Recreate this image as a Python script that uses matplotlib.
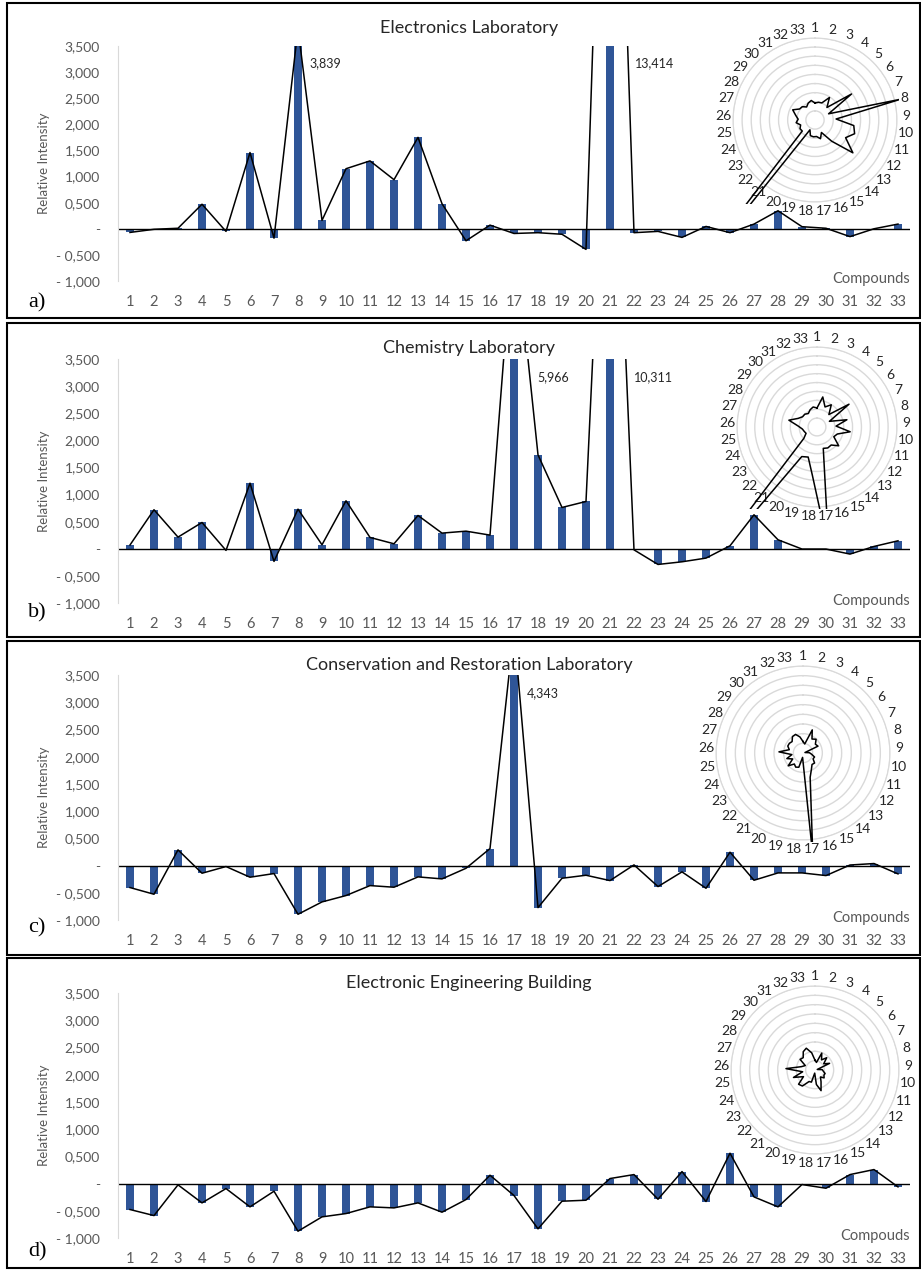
import numpy as np
import matplotlib.pyplot as plt
from matplotlib.patches import Rectangle

plt.rcParams['font.family'] = ['Lato', 'DejaVu Sans']

# data
compounds = list(range(1, 34))

electronics = [-70, -10, 10, 470, -50, 1460, -180, 3839, 160, 1150, 1300, 940, 1750, 480,
               -230, 70, -90, -75, -105, -395, 13414, -75, -50, -165, 45, -75, 90, 345,
               40, 10, -150, 0, 90]
chemistry = [70, 720, 215, 485, -30, 1210, -233, 731, 74, 885, 209, 92, 614, 289,
             325, 252, 5966, 1732, 762, 872, 10311, -20, -289, -240, -172, 55, 627, 166,
             -5, -5, -98, 43, 147]
conservation = [-404, -527, 288, -141, -18, -214, -147, -895, -668, -551, -368, -398, -208, -245,
                -50, 312, 4343, -772, -233, -178, -276, 12, -386, -116, -417, 245, -270, -135,
                -135, -184, 10, 37, -153]
engineering = [-477, -588, -24, -355, -92, -428, -141, -875, -612, -551, -428, -447, -355, -526,
               -294, 153, -220, -832, -324, -306, 92, 165, -288, 220, -330, 557, -245, -428,
               -18, -86, 165, 257, -61]

titles = ['Electronics Laboratory', 'Chemistry Laboratory',
          'Conservation and Restoration Laboratory', 'Electronic Engineering Building']
panel_tags = ['a)', 'b)', 'c)', 'd)']
x_titles = ['Compounds', 'Compounds', 'Compounds', 'Compouds']

y_ticks = [-1000, -500, 0, 500, 1000, 1500, 2000, 2500, 3000, 3500]
y_tick_labels = ['- 1,000', '- 0,500', '-', '0,500', '1,000', '1,500',
                 '2,000', '2,500', '3,000', '3,500']
y_min, y_max = -1000, 3500

BLUE = '#2F5597'
GRID = '#D9D9D9'
TXT = '#595959'

W, H = 921, 1270

# pixel layout of each panel: frame, plot area, title, radar centre/radius, tag
layout = [
    dict(box=(3, 318), plot=(46, 281), title_y=28, radar=(815, 120, 82), tag_y=303),
    dict(box=(323, 637), plot=(359, 603), title_y=348, radar=(817, 427, 80), tag_y=613),
    dict(box=(641, 955), plot=(675, 920), title_y=665, radar=(803, 753, 87), tag_y=928),
    dict(box=(958, 1268), plot=(993, 1238), title_y=983, radar=(815, 1070, 84), tag_y=1252),
]


def px_axes(fig, left, top, right, bottom, **kw):
    return fig.add_axes([left / W, 1 - bottom / H, (right - left) / W, (bottom - top) / H], **kw)


fig = plt.figure(figsize=(W / 100, H / 100), dpi=100)

series = [electronics, chemistry, conservation, engineering]
theta = 2 * np.pi * np.arange(len(compounds)) / len(compounds)

for values, title, tag, xt, lay in zip(series, titles, panel_tags, x_titles, layout):
    top, bottom = lay['box']
    fig.add_artist(Rectangle((7 / W, 1 - bottom / H), 913 / W, (bottom - top) / H,
                             transform=fig.transFigure, fill=False, ec='black', lw=1.5))

    ax = px_axes(fig, 118, lay['plot'][0], 910, lay['plot'][1])
    ax.bar(compounds, values, width=0.32, color=BLUE, zorder=2)
    ax.plot(compounds, values, color='black', lw=1.1, zorder=3)
    ax.axhline(0, color='black', lw=1, zorder=2.5)
    ax.set_xlim(0.5, 33.5)
    ax.set_ylim(y_min, y_max)
    ax.set_xticks(compounds)
    ax.set_xticklabels([str(c) for c in compounds])
    ax.set_yticks(y_ticks)
    ax.set_yticklabels(y_tick_labels)
    ax.tick_params(axis='x', length=0, pad=10, labelsize=10.5, colors=TXT)
    ax.tick_params(axis='y', length=0, pad=13, labelsize=10, colors=TXT)
    for s in ['top', 'right', 'bottom']:
        ax.spines[s].set_visible(False)
    ax.spines['left'].set_color(GRID)
    ax.set_ylabel('Relative Intensity', fontsize=9.5, color=TXT)
    ax.yaxis.set_label_coords(-0.086, 0.5)
    ax.text(1.0, 0.01, xt, transform=ax.transAxes, ha='right', va='center',
            fontsize=10.5, color=TXT)

    # values running off the top get a label just right of the falling line
    y_text = y_max - 330
    for i, v in enumerate(values):
        if v > y_max:
            nxt = values[i + 1]
            x_cross = compounds[i] + (v - y_text) / (v - nxt)
            ax.text(x_cross + 0.3, y_text, f'{v:,}', ha='left', va='center',
                    fontsize=9, color='#262626')

    fig.text(469 / W, 1 - lay['title_y'] / H, title, ha='center', va='center',
             fontsize=13, color='#262626')
    fig.text(28 / W, 1 - lay['tag_y'] / H, tag, ha='left', va='center',
             fontsize=16, family='Liberation Serif', color='black')

    # radar inset
    cx, cy, r = lay['radar']
    rx = px_axes(fig, cx - r, cy - r, cx + r, cy + r, projection='polar')
    rx.set_facecolor('none')
    rx.set_theta_zero_location('N')
    rx.set_theta_direction(-1)
    line, = rx.plot(np.append(theta, theta[0]), np.append(values, values[0]),
                    color='black', lw=1.1, zorder=3)
    line.set_clip_path(Rectangle((-0.01, -0.01), 1.02, 1.02, transform=rx.transAxes))
    rx.set_ylim(y_min, y_max)
    rx.set_yticks(y_ticks[1:])
    rx.set_yticklabels([])
    rx.set_xticks(theta)
    rx.set_xticklabels([str(c) for c in compounds])
    rx.xaxis.grid(False)
    rx.yaxis.grid(True, color=GRID, lw=1)
    rx.spines['polar'].set_color(GRID)
    rx.tick_params(axis='x', length=0, pad=0, labelsize=10, colors='#262626')

fig.savefig('out.png', dpi=100, facecolor='white')
